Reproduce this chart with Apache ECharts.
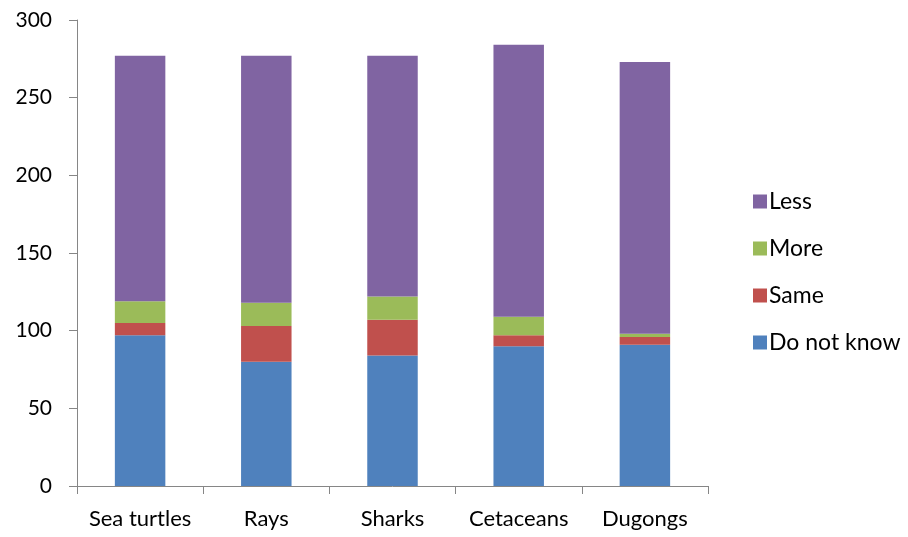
<!DOCTYPE html>
<html>
<head>
<meta charset="UTF-8">
<title>Stacked bar</title>
<style>
html,body{margin:0;padding:0;background:#fff;}
#main{width:908px;height:537px;}
</style>
</head>
<body>
<div id="main"></div>
<script src="https://cdn.jsdelivr.net/npm/echarts@6/dist/echarts.min.js"></script>
<script>
var categories = ['Sea turtles', 'Rays', 'Sharks', 'Cetaceans', 'Dugongs'];
var doNotKnow = [97, 80, 84, 90, 91];
var same = [8, 23, 23, 7, 5];
var more = [14, 15, 15, 12, 2];
var less = [158, 159, 155, 175, 175];
var yTicks = [0, 50, 100, 150, 200, 250, 300];

var font = 'Lato, "Open Sans", sans-serif';
var axisColor = '#868686';

function bar(name, data, color) {
	return {
		name: name,
		type: 'bar',
		stack: 'total',
		barWidth: '40%',
		itemStyle: {color: color},
		data: data
	};
}

var chart = echarts.init(document.getElementById('main'));
chart.setOption({
	animation: false,
	grid: {left: 77, right: 200, top: 20, bottom: 51},
	legend: {
		orient: 'vertical',
		left: 748,
		top: 185,
		itemWidth: 14,
		itemHeight: 14,
		itemGap: 24,
		icon: 'rect',
		data: ['Less', 'More', 'Same', 'Do not know'],
		textStyle: {fontFamily: font, fontSize: 23, color: '#000', lineHeight: 23, padding: [0, 0, 0, -3]}
	},
	xAxis: {
		type: 'category',
		data: categories,
		axisLine: {lineStyle: {color: axisColor}},
		axisTick: {show: true, length: 8, interval: 0, lineStyle: {color: axisColor}},
		axisLabel: {fontFamily: font, fontSize: 22, color: '#000', margin: 22, interval: 0}
	},
	yAxis: {
		type: 'value',
		min: yTicks[0],
		max: yTicks[yTicks.length - 1],
		interval: 50,
		splitLine: {show: false},
		axisLine: {show: true, lineStyle: {color: axisColor}},
		axisTick: {show: true, length: 8, lineStyle: {color: axisColor}},
		axisLabel: {fontFamily: font, fontSize: 21, color: '#000', margin: 25}
	},
	series: [
		bar('Do not know', doNotKnow, '#4F81BD'),
		bar('Same', same, '#C0504D'),
		bar('More', more, '#9BBB59'),
		bar('Less', less, '#8064A2')
	]
});
</script>
</body>
</html>
